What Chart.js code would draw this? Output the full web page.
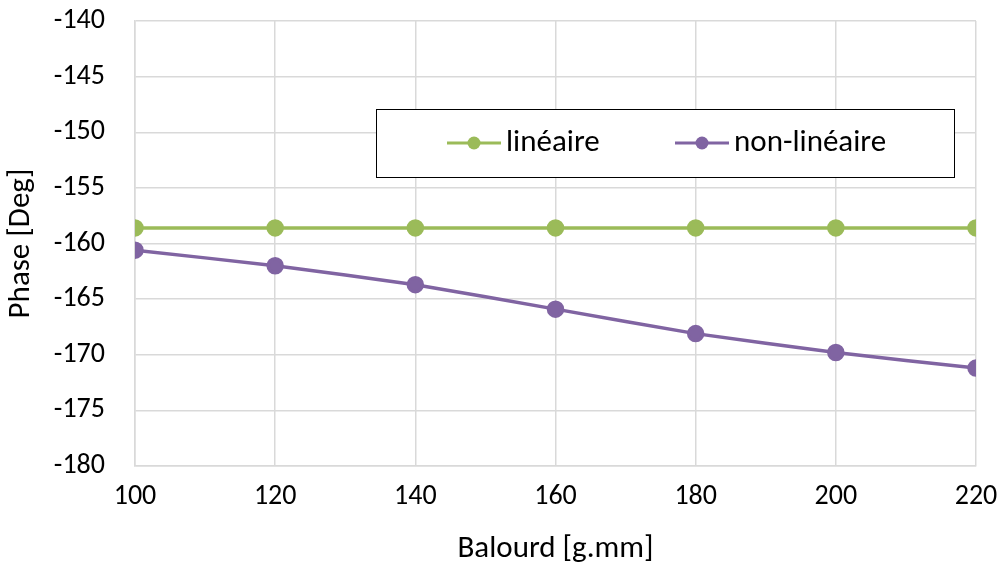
<!DOCTYPE html>
<html><head><meta charset="utf-8">
<script src="https://cdn.jsdelivr.net/npm/chart.js@4"></script>
<style>html,body{margin:0;padding:0;background:#fff}#wrap{width:1004px;height:573px}</style>
</head><body><div id="wrap"><canvas id="c" width="1004" height="573"></canvas></div>
<script>
const balourd = [100, 120, 140, 160, 180, 200, 220];
const lineaire = [-158.6, -158.6, -158.6, -158.6, -158.6, -158.6, -158.6];
const nonLineaire = [-160.6, -162.0, -163.7, -165.9, -168.1, -169.8, -171.2];
const seriesNames = ['linéaire', 'non-linéaire'];
const xTitle = 'Balourd [g.mm]';
const yTitle = 'Phase [Deg]';
const FONT = "Carlito, Lato, 'Liberation Sans', sans-serif";

const legendBox = {
  id: 'legendBox',
  afterDraw(chart) {
    const ctx = chart.ctx;
    const x0 = 376.5, y0 = 109.5, w = 578, h = 68;
    ctx.save();
    ctx.fillStyle = '#fff';
    ctx.fillRect(x0, y0, w, h);
    ctx.strokeStyle = '#000';
    ctx.lineWidth = 1;
    ctx.strokeRect(x0, y0, w, h);
    ctx.font = '31px ' + FONT;
    ctx.textBaseline = 'middle';
    const cy = 143;
    const starts = [447, 675];
    chart.data.datasets.forEach((ds, i) => {
      const sx = starts[i];
      ctx.strokeStyle = ds.borderColor;
      ctx.lineWidth = 3;
      ctx.beginPath(); ctx.moveTo(sx, cy); ctx.lineTo(sx + 54, cy); ctx.stroke();
      ctx.fillStyle = ds.backgroundColor;
      ctx.beginPath(); ctx.arc(sx + 27, cy, 6.5, 0, Math.PI * 2); ctx.fill();
      ctx.fillStyle = '#000';
      ctx.textAlign = 'left';
      ctx.fillText(ds.label, sx + 59, cy);
    });
    ctx.restore();
  }
};

new Chart(document.getElementById('c'), {
  type: 'line',
  data: {
    datasets: [
      { label: seriesNames[0], data: balourd.map((x, i) => ({ x, y: lineaire[i] })),
        borderColor: '#9BBB59', backgroundColor: '#9BBB59', borderWidth: 3.5,
        pointRadius: 7, pointHoverRadius: 7, tension: 0 },
      { label: seriesNames[1], data: balourd.map((x, i) => ({ x, y: nonLineaire[i] })),
        borderColor: '#8064A2', backgroundColor: '#8064A2', borderWidth: 3.5,
        pointRadius: 7, pointHoverRadius: 7, tension: 0.15 }
    ]
  },
  options: {
    responsive: false, animation: false,
    layout: { padding: 0 },
    plugins: { legend: { display: false }, tooltip: { enabled: false } },
    scales: {
      x: {
        type: 'linear', min: 100, max: 220,
        afterBuildTicks: s => { s.ticks = balourd.map(v => ({ value: v })); },
        afterFit: s => { s.height = 107; s.paddingRight = 28; s.paddingLeft = 0; },
        grid: { color: '#D9D9D9', lineWidth: 1.5, drawTicks: false },
        border: { color: '#D9D9D9', width: 1.5 },
        ticks: { color: '#000', font: { family: FONT, size: 28 }, padding: 14, maxRotation: 0 },
        title: { display: true, text: xTitle, color: '#000', font: { family: FONT, size: 31 }, padding: { top: 0, bottom: 5 } }
      },
      y: {
        min: -180, max: -140,
        ticks: { stepSize: 5, color: '#000', font: { family: FONT, size: 28 }, padding: 30 },
        afterFit: s => { s.width = 135; s.paddingTop = 21; s.paddingBottom = 0; },
        grid: { color: '#D9D9D9', lineWidth: 1.5, drawTicks: false },
        border: { color: '#D9D9D9', width: 1.5 },
        title: { display: true, text: yTitle, color: '#000', font: { family: FONT, size: 31 }, padding: 3 }
      }
    }
  },
  plugins: [legendBox]
});
</script></body></html>
